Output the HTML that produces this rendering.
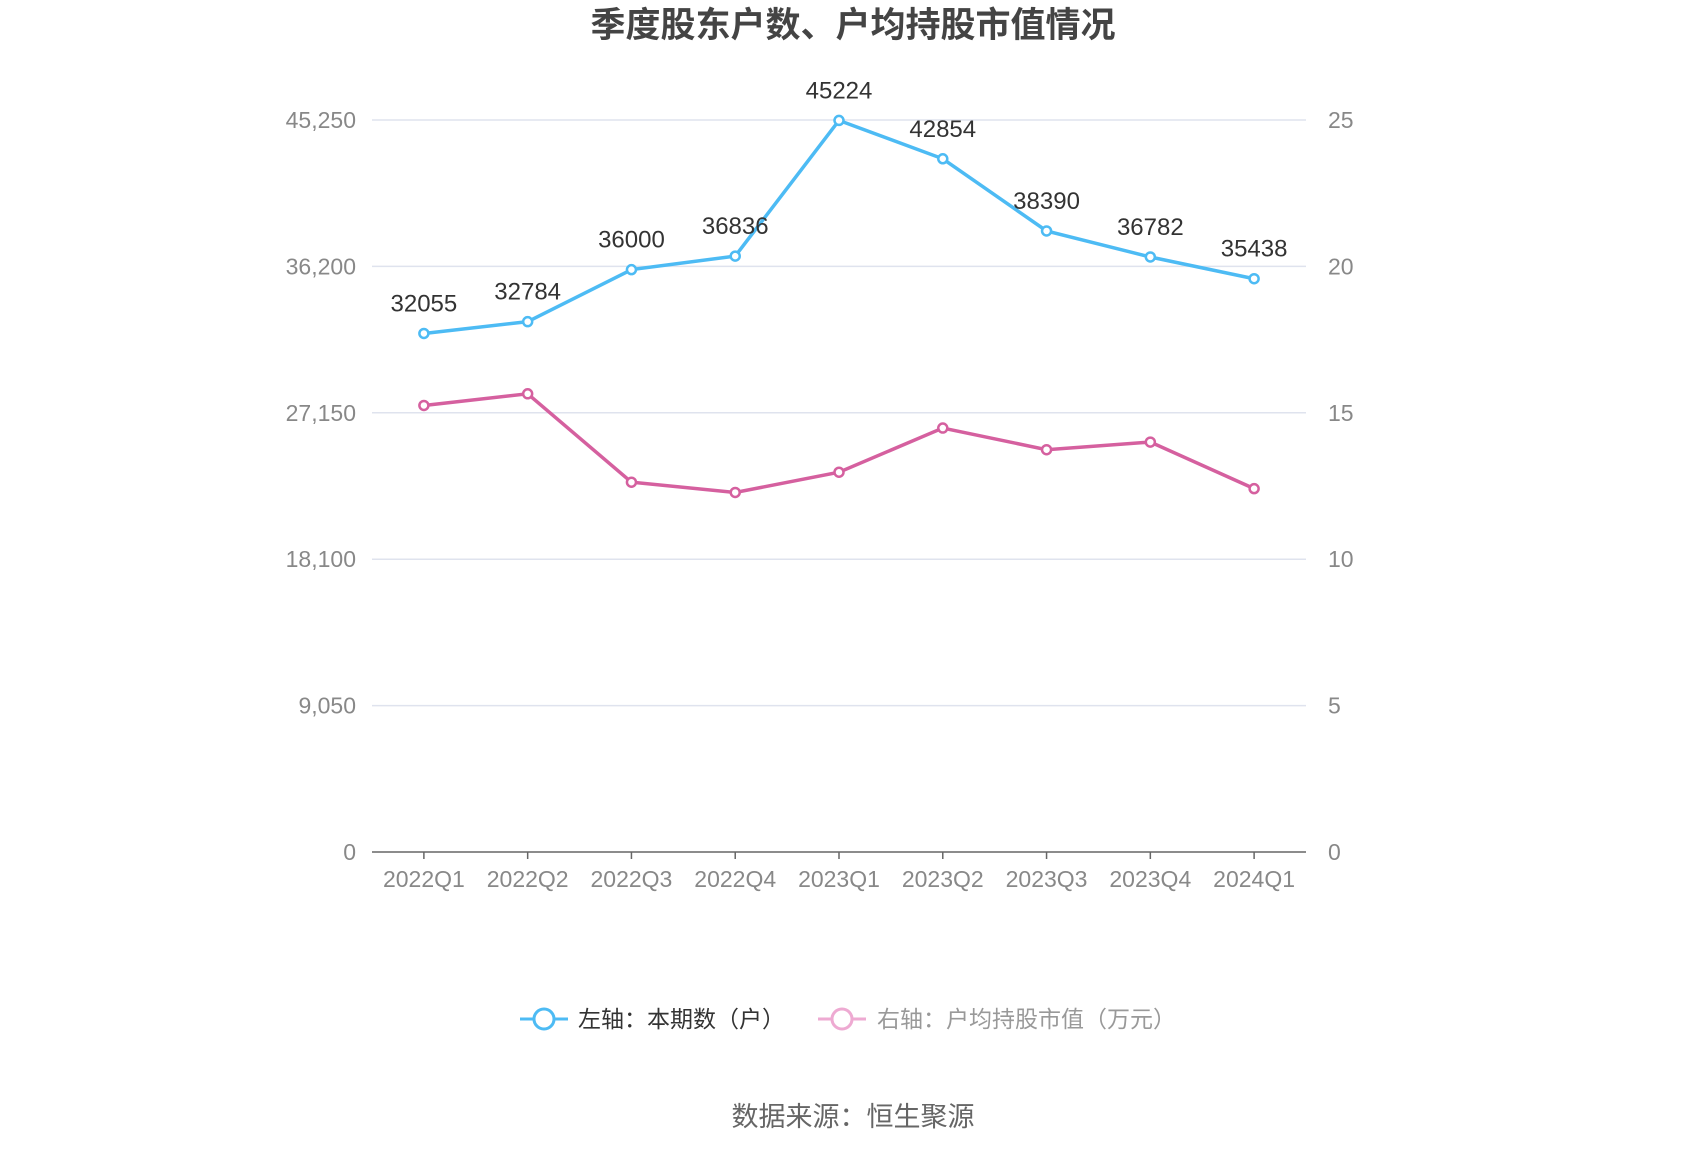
<!DOCTYPE html>
<html><head><meta charset="utf-8"><style>
html,body{margin:0;padding:0;background:#fff;}
body{width:1700px;height:1150px;overflow:hidden;font-family:"Liberation Sans","Noto Sans CJK SC",sans-serif;}
</style></head><body>
<svg width="1700" height="1150" xmlns="http://www.w3.org/2000/svg" font-family="Liberation Sans, Noto Sans CJK SC, sans-serif">
<text x="853" y="37" text-anchor="middle" font-size="35" font-weight="bold" fill="#444">季度股东户数、户均持股市值情况</text>
<g id="grid"></g><g id="axes"></g><g id="series"></g>
<g>
<g>
<line x1="520" y1="1019" x2="568" y2="1019" stroke="#4dbbf4" stroke-width="3"/>
<circle cx="544" cy="1019" r="10" fill="#fff" stroke="#4dbbf4" stroke-width="3"/>
<text x="578" y="1027" font-size="23" fill="#333">左轴：本期数（户）</text></g>
<g>
<line x1="818" y1="1019" x2="866" y2="1019" stroke="#eeaad2" stroke-width="3"/>
<circle cx="842" cy="1019" r="10" fill="#fff" stroke="#eeaad2" stroke-width="3"/>
<text x="877" y="1027" font-size="23" fill="#999">右轴：户均持股市值（万元）</text></g>
</g>
<text x="853" y="1126" text-anchor="middle" font-size="27" fill="#666">数据来源：恒生聚源</text>
</svg>
<script>
const categories=["2022Q1","2022Q2","2022Q3","2022Q4","2023Q1","2023Q2","2023Q3","2023Q4","2024Q1"];
const holders=[32055,32784,36000,36836,45224,42854,38390,36782,35438];
const avgValue=[15.25,15.65,12.63,12.28,12.97,14.48,13.74,14.0,12.41];
const leftTicks=[0,9050,18100,27150,36200,45250];
const rightTicks=[0,5,10,15,20,25];
const NS="http://www.w3.org/2000/svg";
const X0=372,X1=1306,Y0=852,Y1=120;
const band=(X1-X0)/categories.length;
const x=i=>X0+band*(i+0.5);
const yL=v=>Y0-(v/45250)*(Y0-Y1);
const yR=v=>Y0-(v/25)*(Y0-Y1);
function mk(tag,attrs,parent){const e=document.createElementNS(NS,tag);for(const k in attrs)e.setAttribute(k,attrs[k]);parent.appendChild(e);return e;}
const grid=document.getElementById('grid'),axes=document.getElementById('axes'),series=document.getElementById('series');
leftTicks.forEach((t,i)=>{
 const yy=yL(t);
 if(i>0){const l=mk('line',{x1:X0,x2:X1,y1:yy,y2:yy,stroke:'#dfe3ee','stroke-width':1.5},grid);
 
 }
 const tx=mk('text',{x:356,y:yy+8,'text-anchor':'end','font-size':23,fill:'#888'},axes);
 tx.textContent=t.toLocaleString('en-US');
 
 
});
rightTicks.forEach(t=>{
 const tx=mk('text',{x:1328,y:yR(t)+8,'font-size':23,fill:'#888'},axes);
 tx.textContent=t;
 
 
});
const ax=mk('line',{x1:X0,x2:X1,y1:Y0,y2:Y0,stroke:'#666','stroke-width':1.5},axes);


categories.forEach((c,i)=>{
 mk('line',{x1:x(i),x2:x(i),y1:Y0,y2:Y0+7,stroke:'#666','stroke-width':1.5},axes);
 const tx=mk('text',{x:x(i),y:Y0+35,'text-anchor':'middle','font-size':23,fill:'#888'},axes);
 tx.textContent=c;
 
 
});
function drawSeries(vals,yf,color,name,labels){
 const p=mk('polyline',{points:vals.map((v,i)=>x(i)+','+yf(v)).join(' '),fill:'none',stroke:color,'stroke-width':3.5},series);
 
 
 vals.forEach((v,i)=>{
  const c=mk('circle',{cx:x(i),cy:yf(v),r:4.5,fill:'#fff',stroke:color,'stroke-width':2.5},series);
  
  
  if(labels){const t=mk('text',{x:x(i),y:yf(v)-22,'text-anchor':'middle','font-size':24,fill:'#333'},series);
  t.textContent=v;
  
  }
 });
}
drawSeries(holders,yL,'#4dbbf4','holders',true);
drawSeries(avgValue,yR,'#d5609f','avg-value',false);
</script>
</body></html>
